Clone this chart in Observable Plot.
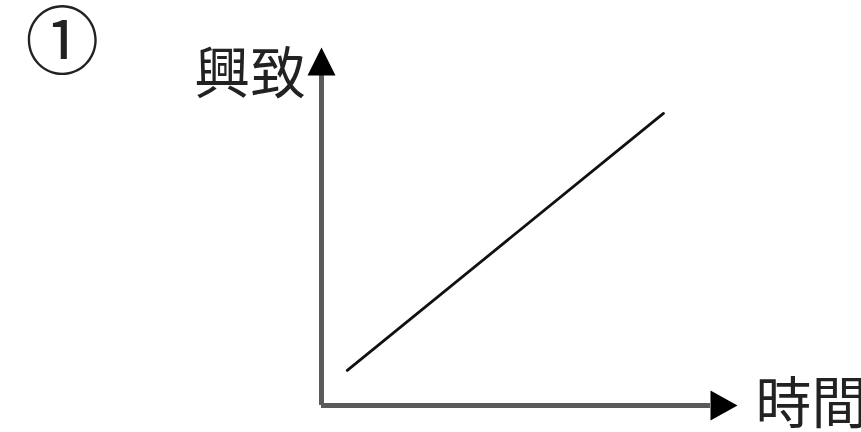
<!DOCTYPE html>
<html>
<head>
<meta charset="utf-8">
<script src="https://cdn.jsdelivr.net/npm/d3@7"></script>
<script src="https://cdn.jsdelivr.net/npm/@observablehq/plot@0.6"></script>
<style>
  html, body { margin: 0; padding: 0; background: #fff; }
  #chart svg { display: block; }
</style>
</head>
<body>
<div id="chart"></div>
<script>
// Data
const time = [0.62, 8.22];
const interest = [0.98, 8.16];
const xAxisEnd = 9.35;   // axis shaft end (arrow base)
const yAxisEnd = 9.22;
const panelLabel = ["①"];
const xLabel = ["時間"];
const yLabel = ["興致"];

const lineData = time.map((t, i) => ({t, v: interest[i]}));

// custom arrowhead symbols, tip at the origin
const arrowRight = {draw(ctx, size) { const h = 27, w = 30; ctx.moveTo(0, 0); ctx.lineTo(-h, -w/2); ctx.lineTo(-h, w/2); ctx.closePath(); }};
const arrowUp = {draw(ctx, size) { const h = 28, w = 28; ctx.moveTo(0, 0); ctx.lineTo(-w/2, h); ctx.lineTo(w/2, h); ctx.closePath(); }};

const font = "'Noto Sans CJK TC', 'Noto Sans CJK JP', sans-serif";

const chart = Plot.plot({
  width: 861,
  height: 432,
  marginLeft: 321,
  marginRight: 124,
  marginTop: 47,
  marginBottom: 27,
  x: {domain: [0, 10], axis: null},
  y: {domain: [0, 10], axis: null},
  style: {background: "#fff", overflow: "visible"},
  marks: [
    Plot.ruleY([0], {x1: 0, x2: xAxisEnd, stroke: "#5a5a5a", strokeWidth: 5}),
    Plot.ruleX([0], {y1: 0, y2: yAxisEnd, stroke: "#5a5a5a", strokeWidth: 5}),
    Plot.dot([{x: 10, y: 0}], {x: "x", y: "y", symbol: arrowRight, fill: "#000", stroke: "none", r: 10}),
    Plot.dot([{x: 0, y: 10}], {x: "x", y: "y", symbol: arrowUp, fill: "#000", stroke: "none", r: 10}),
    Plot.line(lineData, {x: "t", y: "v", stroke: "#111", strokeWidth: 2.8}),
    Plot.text(yLabel, {x: -1.71, y: 9.22, text: d => d, fontSize: 56, fill: "#222", fontFamily: font, textAnchor: "middle", lineAnchor: "middle"}),
    Plot.text(xLabel, {x: 10.43, y: 0, text: d => d, fontSize: 56, fill: "#222", fontFamily: font, textAnchor: "start", lineAnchor: "middle"}),
    Plot.text(panelLabel, {x: -6.23, y: 10.09, text: d => d, fontSize: 74, fill: "#222", fontFamily: font, textAnchor: "middle", lineAnchor: "middle"})
  ]
});
document.getElementById("chart").appendChild(chart);
</script>
</body>
</html>
